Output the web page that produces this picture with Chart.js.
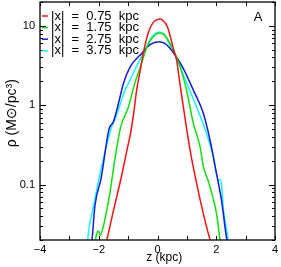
<!DOCTYPE html>
<html>
<head>
<meta charset="utf-8">
<script src="https://cdn.jsdelivr.net/npm/chart.js@4.4.0/dist/chart.umd.min.js"></script>
<style>
  html, body { margin: 0; padding: 0; background: #fff; }
  canvas { display: block; }
</style>
</head>
<body>
<canvas id="chart" width="281" height="267"></canvas>
<script>
// axis ticks
const xTickLabels = [-4, -2, 0, 2, 4];
const yTickLabels = [0.1, 1, 10];

// series labels / colours
const seriesLabels = ['|x|  =  0.75  kpc', '|x|  =  1.75  kpc', '|x|  =  2.75  kpc', '|x|  =  3.75  kpc'];
const seriesColors = ['#ff1010', '#10e010', '#1818e0', '#10f8f8'];

// |x| = 0.75 kpc
const z075 = [-1.9, -1.73, -1.5, -1.22, -1.05, -0.9, -0.8, -0.71, -0.6, -0.48, -0.3, -0.15, 0, 0.08, 0.2, 0.35, 0.45, 0.55, 0.65, 0.77, 0.88, 1.11, 1.34, 1.56, 1.79, 1.9];
const rho075 = [0.013, 0.02, 0.047, 0.13, 0.26, 0.48, 0.85, 1.55, 2.6, 4.6, 8.5, 11.0, 12.0, 12.2, 11.6, 9.5, 7.0, 5.0, 3.7, 1.8, 0.95, 0.27, 0.1, 0.043, 0.02, 0.015];

// |x| = 1.75 kpc
const z175 = [-2.15, -2.07, -2.01, -1.95, -1.84, -1.62, -1.45, -1.26, -0.99, -0.77, -0.55, -0.37, -0.15, 0.05, 0.2, 0.45, 0.77, 0.99, 1.22, 1.45, 1.56, 1.73, 1.88, 2.01, 2.13, 2.2];
const rho175 = [0.017, 0.024, 0.026, 0.023, 0.03, 0.079, 0.21, 0.52, 0.95, 1.9, 3.3, 5.3, 7.3, 8.1, 7.9, 5.8, 3.05, 1.55, 0.59, 0.3, 0.17, 0.11, 0.07, 0.043, 0.02, 0.015];

// |x| = 2.75 kpc
const z275 = [-2.3, -2.23, -2.13, -1.92, -1.65, -1.5, -1.33, -1.16, -0.94, -0.54, -0.25, 0.05, 0.25, 0.43, 0.6, 0.88, 1.22, 1.56, 1.79, 2.01, 2.18, 2.36, 2.45];
const rho275 = [0.015, 0.02, 0.054, 0.12, 0.5, 0.62, 1.05, 1.88, 3.0, 4.5, 5.8, 6.3, 6.0, 5.2, 4.3, 2.9, 1.55, 0.79, 0.36, 0.137, 0.063, 0.02, 0.014];

// |x| = 3.75 kpc
const z375 = [-2.42, -2.38, -2.3, -2.24, -2.13, -1.9, -1.57, -1.45, -1.28, -1.11, -0.99, -0.77, -0.45, -0.2, 0.05, 0.25, 0.43, 0.6, 0.77, 0.88, 1.11, 1.33, 1.67, 1.9, 2.0, 2.07, 2.12, 2.18, 2.24, 2.33, 2.41, 2.47];
const rho375 = [0.015, 0.02, 0.033, 0.041, 0.066, 0.17, 0.52, 0.66, 1.0, 1.55, 1.88, 2.8, 4.8, 7.2, 8.3, 7.6, 5.6, 4.2, 3.1, 2.4, 1.5, 0.95, 0.44, 0.22, 0.14, 0.115, 0.115, 0.1, 0.05, 0.03, 0.02, 0.015];

const FONT = "'Liberation Sans', Arial, Helvetica, sans-serif";

function toPoints(zs, rhos) {
    return zs.map((z, i) => ({ x: z, y: rhos[i] }));
}

const series = [[z075, rho075], [z175, rho175], [z275, rho275], [z375, rho375]];

// frame with inward ticks on all four sides
const framePlugin = {
    id: 'frame',
    afterDatasetsDraw(chart) {
        const { ctx, chartArea: a, scales: { x, y } } = chart;
        ctx.save();
        ctx.strokeStyle = '#000';
        ctx.lineWidth = 1.3;
        ctx.strokeRect(a.left, a.top, a.right - a.left, a.bottom - a.top);
        ctx.lineWidth = 1;
        ctx.beginPath();
        for (let v = x.min; v <= x.max; v++) {
            const px = Math.round(x.getPixelForValue(v)) + 0.5;
            ctx.moveTo(px, a.bottom); ctx.lineTo(px, a.bottom - 4);
            ctx.moveTo(px, a.top); ctx.lineTo(px, a.top + 4);
        }
        for (let d = 0.01; d <= 10; d *= 10) {
            for (let k = 1; k <= 9; k++) {
                const v = k * d;
                if (v < y.min * 0.999 || v > y.max * 1.001) continue;
                const len = k === 1 ? 6 : 3;
                const py = Math.round(y.getPixelForValue(v)) + 0.5;
                ctx.moveTo(a.left, py); ctx.lineTo(a.left + len, py);
                ctx.moveTo(a.right, py); ctx.lineTo(a.right - len, py);
            }
        }
        ctx.stroke();

        // legend in the top-left corner
        ctx.font = '13px ' + FONT;
        ctx.textBaseline = 'middle';
        ctx.textAlign = 'left';
        chart.data.datasets.forEach((ds, i) => {
            const ly = a.top + 14 + i * 11.6;
            ctx.strokeStyle = ds.borderColor;
            ctx.lineWidth = 1.5;
            ctx.beginPath();
            ctx.moveTo(a.left + 2, ly);
            ctx.lineTo(a.left + 8, ly);
            ctx.stroke();
            ctx.fillStyle = '#000';
            ctx.fillText(ds.label, a.left + 11, ly);
        });

        // panel letter
        ctx.font = '13px ' + FONT;
        ctx.textAlign = 'center';
        ctx.fillText('A', a.right - 17, a.top + 15);
        ctx.restore();
    }
};

new Chart(document.getElementById('chart'), {
    type: 'line',
    data: {
        datasets: series.map((s, i) => ({
            label: seriesLabels[i],
            data: toPoints(s[0], s[1]),
            borderColor: seriesColors[i],
            borderWidth: 1.5,
            pointRadius: 0,
            cubicInterpolationMode: 'monotone',
            fill: false
        }))
    },
    options: {
        responsive: false,
        animation: false,
        devicePixelRatio: 1,
        layout: { padding: { top: 2, right: 6, left: 0, bottom: 0 } },
        plugins: { legend: { display: false }, tooltip: { enabled: false } },
        scales: {
            x: {
                type: 'linear',
                min: -4,
                max: 4,
                bounds: 'data',
                grid: { display: false, drawTicks: false },
                border: { display: false },
                afterBuildTicks: scale => { scale.ticks = xTickLabels.map(v => ({ value: v })); },
                afterFit: scale => {
                    scale.height = 27;
                    scale.paddingLeft = 0;
                    scale.paddingRight = 0;
                },
                ticks: {
                    color: '#000',
                    padding: 3,
                    maxRotation: 0,
                    font: { family: FONT, size: 11 },
                    callback: v => String(v).replace('-', '\u2212')
                },
                title: {
                    display: true,
                    text: '    z (kpc)',
                    color: '#000',
                    font: { family: FONT, size: 12 },
                    padding: { top: 0, bottom: 2 }
                }
            },
            y: {
                type: 'logarithmic',
                min: 0.02,
                max: 20,
                bounds: 'data',
                grid: { display: false, drawTicks: false },
                border: { display: false },
                afterBuildTicks: scale => { scale.ticks = yTickLabels.map(v => ({ value: v })); },
                afterFit: scale => {
                    scale.width = 40;
                    scale.paddingTop = 0;
                    scale.paddingBottom = 0;
                },
                ticks: {
                    color: '#000',
                    padding: 5,
                    font: { family: FONT, size: 11 },
                    callback: v => String(v)
                },
                title: {
                    display: true,
                    text: '    ρ (M\u2299/pc\u00b3)',
                    color: '#000',
                    font: { family: FONT, size: 14 },
                    padding: { top: 4, bottom: 0 }
                }
            }
        }
    },
    plugins: [framePlugin]
});
</script>
</body>
</html>
